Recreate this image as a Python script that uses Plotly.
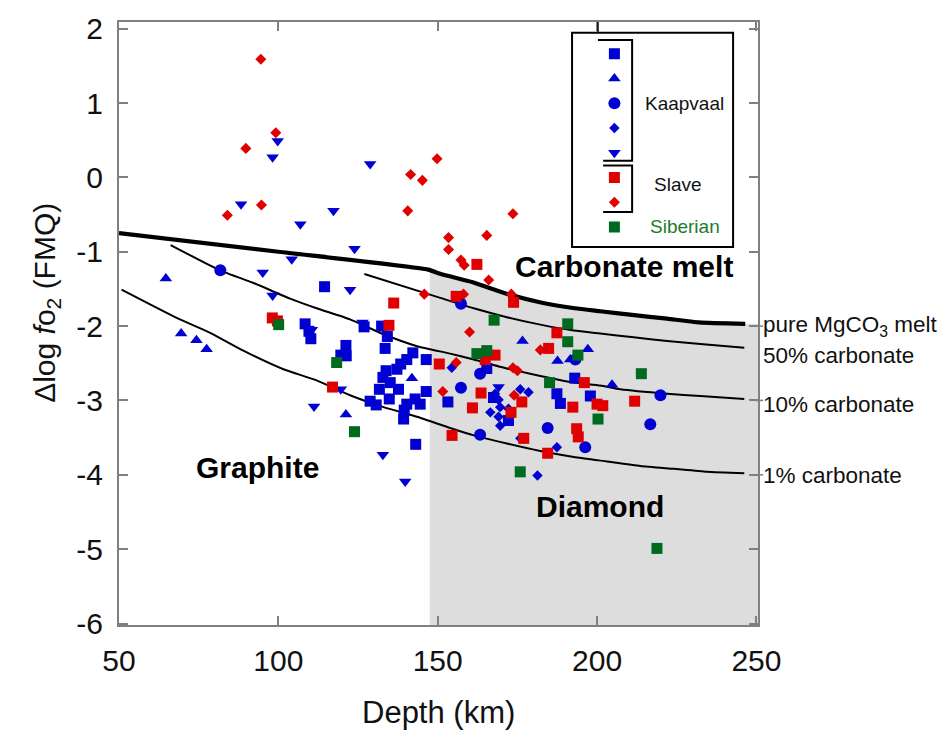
import numpy as np
import plotly.graph_objects as go

# ---------------------------------------------------------------------------
# Xenolith oxygen fugacity vs. depth, Kaapvaal / Slave / Siberian cratons
# ---------------------------------------------------------------------------

# Kaapvaal (blue), one list per symbol
kaap_sq_depth = [114.5, 108.4, 109.6, 110.2, 121.2, 119.6, 121.3, 126.9, 132.4, 134.2,
                 133.5, 142.2, 140.3, 138.4, 133.8, 137.2, 132.8, 135.1, 131.7, 137.7,
                 134.8, 128.8, 130.7, 146.4, 142.9, 140.3, 144.5, 139.5, 139.3, 146.4,
                 143.1, 153.2, 165.4, 193.0, 167.5, 172.2, 187.4, 188.5, 197.9]
kaap_sq_fo2 = [-1.47, -1.97, -2.07, -2.17, -2.26, -2.39, -2.40, -2.01, -2.00, -2.14,
               -2.30, -2.36, -2.45, -2.51, -2.60, -2.58, -2.69, -2.76, -2.85, -2.85,
               -2.98, -3.01, -3.06, -2.88, -2.98, -3.05, -3.05, -3.13, -3.25, -2.45,
               -3.59, -3.02, -2.57, -2.70, -2.96, -3.27, -2.91, -3.04, -2.94]

kaap_tri_depth = [64.7, 69.5, 74.3, 77.5, 121.2, 141.9, 176.6, 197.1, 191.6, 187.6, 204.7]
kaap_tri_fo2 = [-1.36, -2.10, -2.19, -2.31, -3.19, -2.70, -2.20, -2.31, -2.45, -2.47, -2.79]

kaap_circ_depth = [81.8, 157.3, 193.2, 163.3, 157.3, 184.5, 163.3, 216.7, 196.3, 219.9]
kaap_circ_fo2 = [-1.25, -1.70, -2.45, -2.64, -2.83, -3.37, -3.46, -3.32, -3.63, -2.93]

kaap_dia_depth = [154.4, 168.0, 175.9, 178.5, 166.5, 169.6, 169.1, 172.2, 169.6, 175.9,
                  187.4, 181.3, 169.1]
kaap_dia_fo2 = [-2.56, -2.91, -2.85, -2.89, -3.16, -3.09, -3.22, -3.11, -3.34, -3.51,
                -3.63, -4.01, -2.99]

kaap_dtri_depth = [99.8, 98.2, 128.8, 88.3, 117.3, 106.9, 123.9, 104.2, 95.1, 122.5,
                   98.2, 110.5, 126.4, 119.6, 111.2, 132.8, 139.8, 169.1]
kaap_dtri_fo2 = [0.49, 0.27, 0.18, -0.36, -0.45, -0.63, -0.96, -1.10, -1.28, -1.51,
                 -1.59, -2.05, -1.95, -2.85, -3.08, -3.73, -4.09, -2.82]

# Slave (red)
slave_sq_depth = [136.2, 98.1, 99.7, 134.7, 117.0, 150.5, 154.5, 162.3, 155.8, 173.8,
                  187.4, 184.8, 168.0, 164.9, 196.0, 163.6, 192.4, 200.0, 201.8, 160.9,
                  176.4, 173.0, 193.6, 194.1, 177.0, 184.5, 211.8]
slave_sq_fo2 = [-1.69, -1.89, -1.93, -1.99, -2.82, -2.51, -3.47, -1.17, -1.60, -1.68,
                -2.09, -2.30, -2.39, -2.45, -2.76, -2.90, -3.09, -3.05, -3.07, -3.10,
                -3.02, -3.16, -3.38, -3.49, -3.51, -3.71, -3.01]

slave_dia_depth = [94.5, 99.2, 89.8, 94.7, 84.0, 149.8, 141.5, 145.2, 140.6, 145.8,
                   173.6, 153.4, 165.4, 153.4, 157.3, 158.3, 166.0, 158.1, 173.1, 160.0,
                   182.2, 155.8, 173.6, 175.0, 151.6, 174.0]
slave_dia_fo2 = [1.59, 0.60, 0.39, -0.37, -0.51, 0.25, 0.04, -0.04, -0.45, -1.57,
                 -0.49, -0.81, -0.78, -0.97, -1.11, -1.18, -1.38, -1.57, -1.57, -2.08,
                 -2.32, -2.49, -2.56, -2.60, -2.88, -2.93]

# Siberian (green)
sib_sq_depth = [100.1, 118.3, 123.9, 167.7, 190.8, 190.8, 194.0, 162.3, 165.4, 185.1,
                200.3, 213.9, 175.9, 218.8]
sib_sq_fo2 = [-1.98, -2.49, -3.42, -1.92, -1.97, -2.21, -2.39, -2.37, -2.33, -2.76,
              -3.25, -2.64, -3.96, -4.99]

# Carbonate stability curves
melt_depth = [50, 100, 147, 151, 161, 172, 182, 193, 201, 211, 222, 232, 246.5]
melt_fo2 = [-0.75, -1.00, -1.24, -1.30, -1.41, -1.57, -1.68, -1.76, -1.80, -1.85, -1.90, -1.95, -1.97]

c50_depth = [127, 150.8, 161.3, 171.7, 182.2, 192.7, 201, 211.5, 222, 232.4, 246.2]
c50_fo2 = [-1.30, -1.62, -1.76, -1.88, -1.98, -2.06, -2.10, -2.15, -2.20, -2.24, -2.29]

c10_depth = [66.2, 81.7, 92.2, 103.7, 112, 122.5, 133, 143.5, 153.9, 161.3, 171.7,
             182.2, 192.7, 201, 207.3, 222, 232.4, 246.2]
c10_fo2 = [-0.91, -1.25, -1.42, -1.63, -1.76, -1.91, -2.11, -2.27, -2.37, -2.45, -2.57,
           -2.67, -2.76, -2.80, -2.85, -2.91, -2.94, -2.98]

c1_depth = [50.8, 68.1, 78.6, 89, 101.6, 112, 122.5, 133, 143.5, 153.9, 161.3, 171.7,
            182.2, 192.7, 203.1, 213.6, 224.1, 234.5, 246.2]
c1_fo2 = [-1.51, -1.89, -2.09, -2.33, -2.58, -2.73, -2.93, -3.09, -3.22, -3.37, -3.47,
          -3.58, -3.68, -3.76, -3.82, -3.88, -3.92, -3.96, -3.98]

curve_labels = ["pure MgCO<sub>3</sub> melt", "50% carbonate", "10% carbonate", "1% carbonate"]
curve_label_fo2 = [-2.0, -2.40, -3.05, -4.01]

# Graphite / diamond transition depth (km)
diamond_depth = 147.5

x_range = [50, 250.5]
y_range = [-6.02, 2.09]
x_ticks = [50, 100, 150, 200, 250]
y_ticks = [-6, -5, -4, -3, -2, -1, 0, 1, 2]

BLUE = "#0000d2"
RED = "#e10000"
GREEN = "#006a1f"
FONT = "Liberation Sans, Arial, sans-serif"

fig = go.Figure()

# Diamond stability field, bounded above by the carbonate-melt curve
md = np.array(melt_depth, dtype=float)
mf = np.array(melt_fo2, dtype=float)
keep = md > diamond_depth
top_x = np.concatenate([[diamond_depth], md[keep], [x_range[1]]])
top_y = np.concatenate([[np.interp(diamond_depth, md, mf)], mf[keep], [mf[-1]]])
poly_x = np.concatenate([[diamond_depth], top_x, [x_range[1], diamond_depth]])
poly_y = np.concatenate([[y_range[0]], top_y, [y_range[0], y_range[0]]])
fig.add_trace(go.Scatter(x=poly_x, y=poly_y, mode="lines", fill="toself",
                         fillcolor="#dcdddc", line=dict(width=0), hoverinfo="skip"))

# Carbonate curves
for xs, ys, w in [(melt_depth, melt_fo2, 4.2), (c50_depth, c50_fo2, 2),
                  (c10_depth, c10_fo2, 2), (c1_depth, c1_fo2, 2)]:
    fig.add_trace(go.Scatter(x=xs, y=ys, mode="lines",
                             line=dict(color="black", width=w, shape="spline", smoothing=0.5)))

# Data points
series = [
    (kaap_sq_depth, kaap_sq_fo2, "square", BLUE, 11),
    (kaap_tri_depth, kaap_tri_fo2, "triangle-up", BLUE, 11),
    (kaap_circ_depth, kaap_circ_fo2, "circle", BLUE, 12),
    (kaap_dia_depth, kaap_dia_fo2, "diamond", BLUE, 8),
    (kaap_dtri_depth, kaap_dtri_fo2, "triangle-down", BLUE, 11),
    (slave_sq_depth, slave_sq_fo2, "square", RED, 11),
    (slave_dia_depth, slave_dia_fo2, "diamond", RED, 8.5),
    (sib_sq_depth, sib_sq_fo2, "square", GREEN, 11),
]
for xs, ys, sym, col, sz in series:
    fig.add_trace(go.Scatter(x=xs, y=ys, mode="markers",
                             marker=dict(symbol=sym, color=col, size=sz, opacity=1,
                                         line=dict(width=0))))

# Legend keys on their own small axes (one row per series, top to bottom)
for row, (_, _, sym, col, sz) in enumerate(series):
    fig.add_trace(go.Scatter(x=[0.263], y=[row], mode="markers", xaxis="x2", yaxis="y2",
                             marker=dict(symbol=sym, color=col, size=sz, opacity=1,
                                         line=dict(width=0))))

axis_common = dict(showgrid=False, zeroline=False, showline=True, linecolor="#808080",
                   linewidth=2, mirror="ticks", ticks="inside", ticklen=9, tickwidth=2,
                   tickcolor="#808080", tickfont=dict(size=30, color="#111", family=FONT))

fig.update_layout(
    width=948, height=731,
    margin=dict(l=119, r=190, t=16, b=106),
    paper_bgcolor="white", plot_bgcolor="rgba(0,0,0,0)",
    showlegend=False,
    font=dict(family=FONT, color="#111"),
    xaxis=dict(range=x_range, tickvals=x_ticks, ticktext=[str(v) for v in x_ticks],
               ticklabelstandoff=8, **axis_common),
    yaxis=dict(range=y_range, tickvals=y_ticks, ticktext=[str(v) for v in y_ticks],
               ticklabelstandoff=8, **axis_common),
    xaxis2=dict(domain=[0.709, 0.961], range=[0, 1], anchor="y2", visible=False),
    yaxis2=dict(domain=[0.627, 0.982], range=[7.81, -0.85], anchor="x2", visible=False),
)

# Legend frame and group brackets
fig.add_shape(type="rect", xref="x2 domain", yref="y2 domain", x0=0, x1=1, y0=0, y1=1,
              line=dict(color="black", width=2))
fig.add_shape(type="line", xref="x2", yref="paper", x0=0.161, x1=0.161, y0=0.982, y1=1.0,
              line=dict(color="black", width=1.5))
fig.add_shape(type="path", xref="x2", yref="y2",
              path="M0.161,-0.56 L0.373,-0.56 L0.373,4.32 L0.193,4.32",
              line=dict(color="black", width=2))
fig.add_shape(type="path", xref="x2", yref="y2",
              path="M0.193,4.52 L0.373,4.52 L0.373,6.4 L0.193,6.4",
              line=dict(color="black", width=2))

legend_text = [("Kaapvaal", 0.441, 2.0, "#111"), ("Slave", 0.497, 5.3, "#111"),
               ("Siberian", 0.472, 7.0, "#1f7a2c")]
for txt, lx, ly, col in legend_text:
    fig.add_annotation(text=txt, x=lx, y=ly, xref="x2", yref="y2", xanchor="left",
                       yanchor="middle", showarrow=False, font=dict(size=19, color=col))

# Field labels
for txt, lx, ly in [("Carbonate melt", 208.5, -1.20), ("Graphite", 93.3, -3.90),
                    ("Diamond", 201.0, -4.42)]:
    fig.add_annotation(text=f"<b>{txt}</b>", x=lx, y=ly, showarrow=False,
                       font=dict(size=30, color="black"))

# Curve labels to the right of the frame
for txt, ly in zip(curve_labels, curve_label_fo2):
    fig.add_annotation(text=txt, x=1.005, y=ly, xref="paper", yref="y", xanchor="left",
                       yanchor="middle", showarrow=False, font=dict(size=22.5, color="#111"))
for ly in [-2, -3, -4]:
    fig.add_shape(type="line", xref="paper", yref="y", x0=0.995, x1=1.008, y0=ly, y1=ly,
                  line=dict(color="#808080", width=1.5))

# Axis titles
fig.add_annotation(text="Depth (km)", x=0.5, y=-0.1445, xref="paper", yref="paper",
                   showarrow=False, yanchor="middle", font=dict(size=31, color="#111"))
fig.add_annotation(text="\u0394log <i>f</i>o<sub>2</sub> (FMQ)", x=-0.145, y=0.534,
                   xref="paper", yref="paper", textangle=-90, showarrow=False,
                   font=dict(size=30, color="#111"))

fig.write_html("out.html")
